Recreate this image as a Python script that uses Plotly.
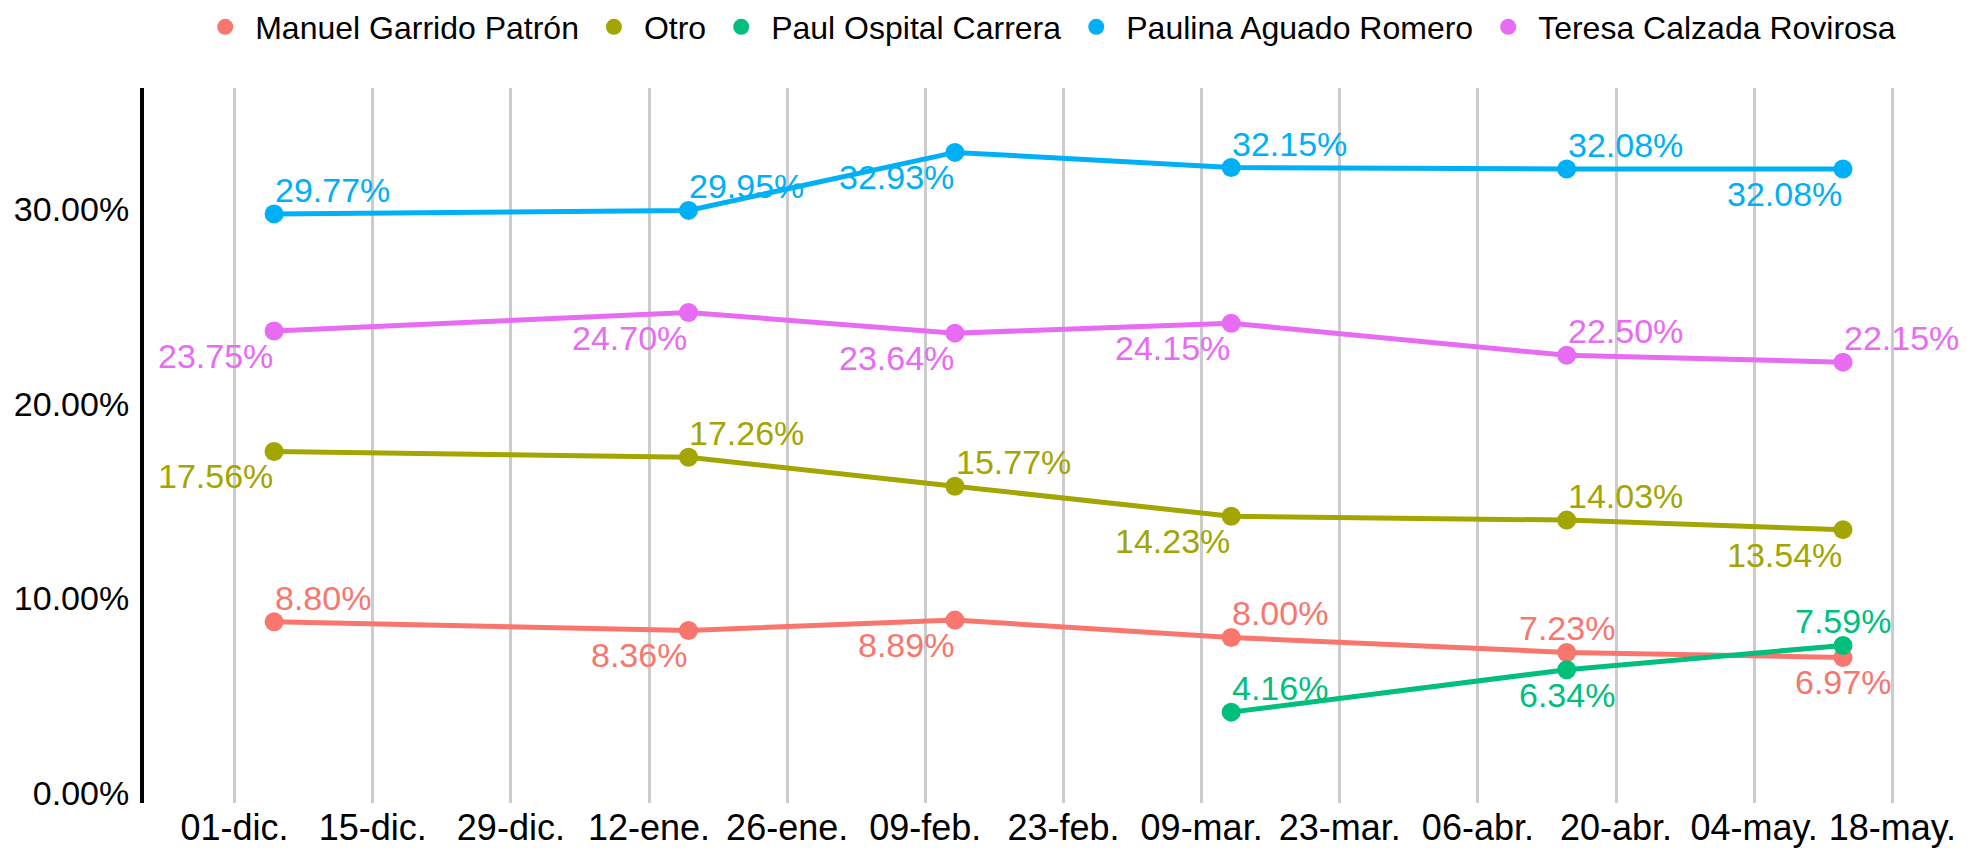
import plotly.graph_objects as go

dates = ["2020-12-05", "2021-01-16", "2021-02-12", "2021-03-12", "2021-04-15", "2021-05-13"]
series_names = ["Manuel Garrido Patrón", "Otro", "Paul Ospital Carrera",
                "Paulina Aguado Romero", "Teresa Calzada Rovirosa"]
manuel = [8.80, 8.36, 8.89, 8.00, 7.23, 6.97]
otro = [17.56, 17.26, 15.77, 14.23, 14.03, 13.54]
paul = [None, None, None, 4.16, 6.34, 7.59]
paulina = [29.77, 29.95, 32.93, 32.15, 32.08, 32.08]
teresa = [23.75, 24.70, 23.64, 24.15, 22.50, 22.15]
values = [manuel, otro, paul, paulina, teresa]
colors = ["#F8766D", "#A3A500", "#00BF7D", "#00B0F6", "#E76BF3"]

tick_dates = ["2020-12-01", "2020-12-15", "2020-12-29", "2021-01-12", "2021-01-26",
              "2021-02-09", "2021-02-23", "2021-03-09", "2021-03-23", "2021-04-06",
              "2021-04-20", "2021-05-04", "2021-05-18"]
tick_labels = ["01-dic.", "15-dic.", "29-dic.", "12-ene.", "26-ene.", "09-feb.",
               "23-feb.", "09-mar.", "23-mar.", "06-abr.", "20-abr.", "04-may.", "18-may."]
y_ticks = [0.0, 0.10, 0.20, 0.30]

# label placement (style): TR = above-right, BL = below-left, TC/BC = centred
positions = [
    ["TR", "BL", "BL", "TR", "TC", "BC"],
    ["BL", "TR", "TR", "BL", "TR", "BL"],
    ["TR", "TR", "TR", "TR", "BC", "TC"],
    ["TR", "TR", "BL", "TR", "TR", "BL"],
    ["BL", "BL", "BL", "BL", "TR", "TR"],
]
anchor = {"TR": ("left", "bottom", 4), "BL": ("right", "top", -5),
          "TC": ("center", "bottom", 4), "BC": ("center", "top", -5)}

FONT = "Liberation Sans, Arial, sans-serif"
fig = go.Figure()
annotations = []
for name, vals, col, pos in zip(series_names, values, colors, positions):
    yv = [v / 100 if v is not None else None for v in vals]
    fig.add_trace(go.Scatter(
        x=dates, y=yv,
        mode="lines+markers",
        name=name,
        showlegend=False,
        line=dict(color=col, width=5),
        marker=dict(color=col, size=19),
        connectgaps=False,
        cliponaxis=False,
    ))
    for d, v, p in zip(dates, vals, pos):
        if v is None:
            continue
        xa, ya, ys = anchor[p]
        annotations.append(dict(
            x=d, y=v / 100, xref="x", yref="y", text=f"{v:.2f}%",
            showarrow=False, xanchor=xa, yanchor=ya, yshift=ys, borderpad=0,
            font=dict(color=col, size=34, family=FONT),
        ))
# legend entries (markers only, like the reference)
for name, col in zip(series_names, colors):
    fig.add_trace(go.Scatter(
        x=[None], y=[None], mode="markers", name=name,
        marker=dict(color=col, size=19), showlegend=True,
    ))

fig.update_layout(
    width=1967, height=848,
    paper_bgcolor="white", plot_bgcolor="white",
    margin=dict(l=144, r=57, t=88, b=45, autoexpand=False),
    font=dict(family=FONT, size=34, color="#000000"),
    showlegend=True,
    annotations=annotations,
    legend=dict(orientation="h", x=0.029, xanchor="left", y=1.0853, yanchor="middle",
                font=dict(size=32, color="#000000"), itemwidth=50,
                bgcolor="rgba(0,0,0,0)"),
)
fig.update_xaxes(
    type="date",
    range=["2020-11-21T19:40", "2021-05-19T19:00"],
    tickvals=tick_dates, ticktext=tick_labels,
    showgrid=True, gridcolor="#CCCCCC", gridwidth=3,
    showline=False, zeroline=False, ticks="", automargin=False,
    tickfont=dict(size=36, color="#000000"),
)
fig.update_yaxes(
    range=[-0.0051, 0.3624],
    tickvals=y_ticks, tickformat=".2%",
    showgrid=False, zeroline=False,
    showline=True, linecolor="#000000", linewidth=4,
    ticks="", ticklabelstandoff=4, automargin=False,
    tickfont=dict(size=34, color="#000000"),
)

fig.write_html("out.html", config={"displayModeBar": False},
               post_script="document.body.style.margin='0px';")
